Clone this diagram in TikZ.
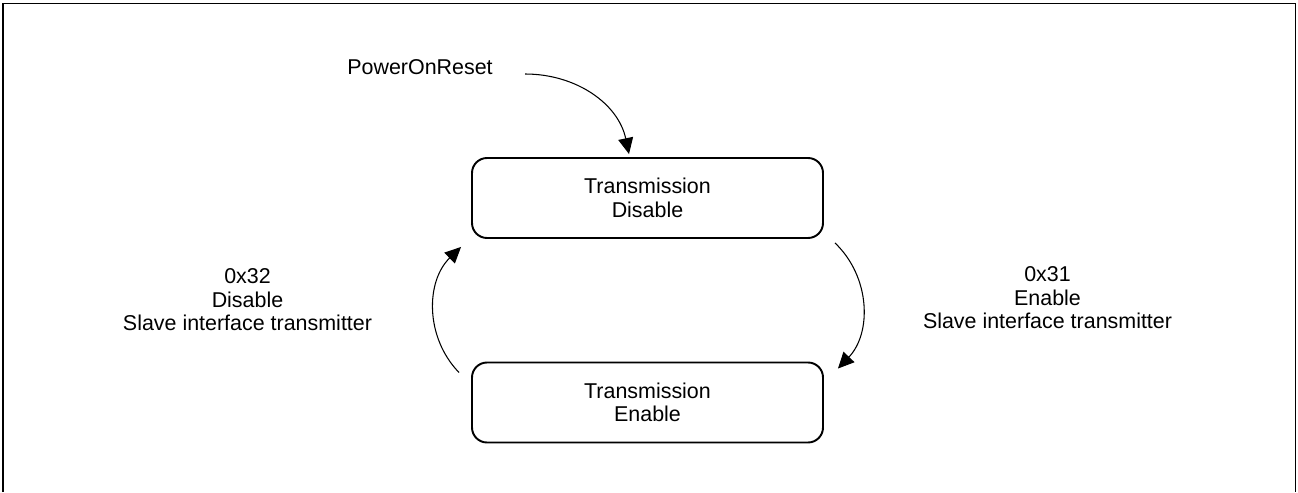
\documentclass[tikz,border=0pt]{standalone}
\usepackage{fontspec}
\setmainfont{Liberation Sans}
\usetikzlibrary{arrows.meta,positioning,calc}

\begin{document}
\begin{tikzpicture}[
    state/.style={draw, line width=1.1pt, rounded corners=0.3cm, minimum width=7.02cm, minimum height=1.6cm, align=center},
    trans/.style={line width=0.6pt, -{Triangle[length=0.32cm,width=0.3cm]}},
    lbl/.style={align=center},
    every node/.style={font=\fontsize{12.2}{13.4}\selectfont}
]
    \useasboundingbox (0,0) rectangle (25.96,9.84);
    \draw[line width=0.85pt] (0.06,0) -- (0.06,9.77) -- (25.91,9.77) -- (25.91,0);

    \node[state] (dis) at (12.95,5.88) {Transmission\\Disable};
    \node[state] (ena) at (12.95,1.79) {Transmission\\Enable};
    \node (por) at (8.4,8.5) {PowerOnReset};
    \node[lbl] (lbldis) at (4.95,3.84) {0x32\\Disable\\Slave interface transmitter};
    \node[lbl] (lblen) at (20.95,3.88) {0x31\\Enable\\Slave interface transmitter};

    \coordinate (porstart) at (10.5,8.36);
    \draw[trans] (porstart) to[out=0, in=102] ([xshift=-0.37cm, yshift=0.06cm]dis.north);
    \draw[trans] ([shift={(0.22,-0.08)}]dis.south east) to[bend left=45] ([shift={(0.28,-0.14)}]ena.north east);
    \draw[trans] ([shift={(-0.24,-0.22)}]ena.north west) to[bend left=45] ([shift={(-0.2,-0.16)}]dis.south west);
\end{tikzpicture}
\end{document}
